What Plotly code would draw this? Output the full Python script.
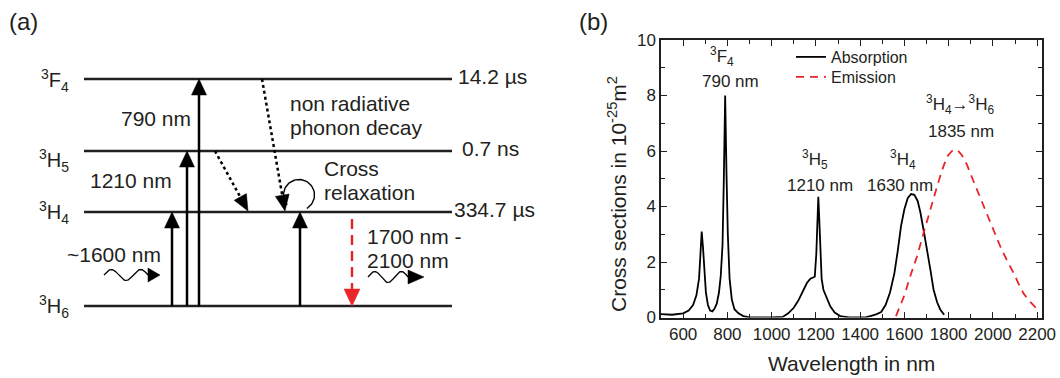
import math
import plotly.graph_objects as go

FONT = "Liberation Sans, Arial, sans-serif"
INK = "#231f20"
RED = "#e8252b"

# ---------------- (b) cross-section spectra ----------------
abs_wavelength = [500, 550, 600, 625, 645, 660, 672, 678, 684, 690, 696, 703, 712, 722, 732,
                  742, 752, 762, 770, 778, 784, 790, 796, 802, 810, 820, 832, 850, 872, 900,
                  1000, 1050, 1075, 1100, 1120, 1140, 1160, 1175, 1195, 1202, 1207, 1211, 1215,
                  1220, 1226, 1234, 1250, 1265, 1285, 1310, 1350, 1420, 1450, 1475, 1495, 1515,
                  1535, 1555, 1570, 1585, 1600, 1615, 1630, 1645, 1660, 1672, 1688, 1702, 1718,
                  1732, 1748, 1762, 1780]
abs_sigma = [0.12, 0.10, 0.15, 0.25, 0.45, 0.8, 1.4, 2.2, 3.1, 2.5, 1.6, 0.9, 0.45, 0.25, 0.22,
             0.32, 0.5, 0.9, 1.5, 2.6, 5.0, 8.0, 5.2, 3.0, 1.4, 0.65, 0.3, 0.15, 0.05, 0.0,
             0.0, 0.02, 0.15, 0.35, 0.6, 0.95, 1.25, 1.4, 1.47, 2.3, 3.6, 4.35, 3.6,
             2.3, 1.4, 1.0, 0.65, 0.4, 0.18, 0.05, 0.0, 0.0, 0.06, 0.12, 0.2, 0.45,
             0.9, 1.6, 2.4, 3.3, 3.9, 4.3, 4.45, 4.42, 4.2, 3.8, 3.1, 2.5, 1.7,
             1.0, 0.55, 0.29, 0.1]

em_wavelength = [1562, 1581, 1600, 1627, 1657, 1687, 1717, 1747, 1770, 1793, 1815, 1838, 1860,
                 1883, 1913, 1943, 1973, 2003, 2034, 2064, 2094, 2120, 2140, 2170, 2200]
em_sigma = [0.05, 0.4, 0.8, 1.5, 2.2, 3.05, 3.9, 4.7, 5.3, 5.8, 6.0, 6.05, 5.85,
            5.5, 4.9, 4.3, 3.75, 3.15, 2.55, 2.05, 1.6, 1.15, 0.85, 0.55, 0.3]

# peak labels: (text, wavelength, cross section)
peak_labels = [
    ("<sup>3</sup>F<sub>4</sub>", 776, 9.39),
    ("790 nm", 812, 8.52),
    ("<sup>3</sup>H<sub>5</sub>", 1196, 5.68),
    ("1210 nm", 1219, 4.77),
    ("<sup>3</sup>H<sub>4</sub>", 1594, 5.68),
    ("1630 nm", 1580, 4.77),
    ("<sup>3</sup>H<sub>4</sub>→<sup>3</sup>H<sub>6</sub>", 1852, 7.66),
    ("1835 nm", 1856, 6.72),
]

# ---------------- (a) energy level scheme ----------------
level_names = ["<sup>3</sup>F<sub>4</sub>", "<sup>3</sup>H<sub>5</sub>",
               "<sup>3</sup>H<sub>4</sub>", "<sup>3</sup>H<sub>6</sub>"]
level_y = [79, 151, 212, 306]          # diagram height of each level
level_label_y = [80, 160, 212, 306]
lifetimes = ["14.2 µs", "0.7 ns", "334.7 µs", ""]
lifetime_x = [456, 460, 452, 0]
level_x0, level_x1 = 84, 452

# absorption transitions from the ground level (x position, target level index)
pump_x = [172, 187, 199, 300]
pump_to = [2, 1, 0, 2]
# non radiative decays: (x start, from level, x end, to level)
decays = [(262, 0, 285, 2), (215, 1, 248, 2)]
# radiative emission 3H4 -> 3H6
emission_x = 352
emission_top = 219

fig = go.Figure()

fig.add_trace(go.Scatter(x=abs_wavelength, y=abs_sigma, mode="lines", name="Absorption",
                         line=dict(color="black", width=1.8), xaxis="x", yaxis="y",
                         legend="legend"))
fig.add_trace(go.Scatter(x=em_wavelength, y=em_sigma, mode="lines", name="Emission",
                         line=dict(color=RED, width=1.8, dash="8px,6px"), xaxis="x", yaxis="y",
                         legend="legend2"))

shapes = []
annotations = []


def head(tip, frm, length=16, half=7.5, color="black"):
    dx, dy = tip[0] - frm[0], tip[1] - frm[1]
    n = math.hypot(dx, dy)
    dx, dy = dx / n, dy / n
    bx, by = tip[0] - dx * length, tip[1] - dy * length
    px, py = -dy, dx
    path = (f"M{tip[0]},{tip[1]} L{bx + px * half},{by + py * half} "
            f"L{bx - px * half},{by - py * half} Z")
    shapes.append(dict(type="path", path=path, xref="x2", yref="y2",
                       fillcolor=color, line=dict(color=color, width=0.5)))
    return bx, by


def arrow(frm, tip, width=2.5, dash="solid", color="black", length=16, half=7.5):
    bx, by = head(tip, frm, length, half, color)
    shapes.append(dict(type="line", x0=frm[0], y0=frm[1], x1=bx, y1=by, xref="x2", yref="y2",
                       line=dict(color=color, width=width, dash=dash)))


# levels
for name, y, ly, life, lx in zip(level_names, level_y, level_label_y, lifetimes, lifetime_x):
    shapes.append(dict(type="line", x0=level_x0, x1=level_x1, y0=y, y1=y, xref="x2", yref="y2",
                       line=dict(color=INK, width=2.6)))
    annotations.append(dict(text=name, x=71, y=ly, xref="x2", yref="y2", xanchor="right",
                            yanchor="middle", showarrow=False, font=dict(size=20)))
    if life:
        annotations.append(dict(text=life, x=lx, y=y - 3, xref="x2", yref="y2", xanchor="left",
                                yanchor="middle", showarrow=False, font=dict(size=21)))

for x, to in zip(pump_x, pump_to):
    arrow((x, level_y[3]), (x, level_y[to]))

for x0, l0, x1, l1 in decays:
    arrow((x0, level_y[l0]), (x1, level_y[l1] - 1), width=2.5, dash="dot", length=16, half=7)

arrow((emission_x, emission_top), (emission_x, level_y[3]), dash="10px,6px", color=RED,
      length=17, half=8)

# cross relaxation loop
cx, cy, r = 299, 195, 15.5
angs = [math.radians(220 - i * 280 / 60) for i in range(61)]
fig.add_trace(go.Scatter(x=[cx + r * math.cos(a) for a in angs],
                         y=[cy - r * math.sin(a) for a in angs], mode="lines",
                         line=dict(color="black", width=1.4), xaxis="x2", yaxis="y2",
                         showlegend=False, hoverinfo="skip"))


def wavy(x0, x1, yc, tip_x, amp=5.5, periods=1.5):
    n = 80
    xs = [x0 + (x1 - x0) * i / n for i in range(n + 1)]
    ys = [yc - amp * math.sin(2 * math.pi * periods * i / n) for i in range(n + 1)]
    fig.add_trace(go.Scatter(x=xs, y=ys, mode="lines", line=dict(color="black", width=1.3),
                             xaxis="x2", yaxis="y2", showlegend=False, hoverinfo="skip"))
    head((tip_x, yc), (x1, yc), length=tip_x - x1, half=7)


wavy(104, 148, 275, 160)
wavy(368, 408, 277, 424)

text_a = [
    ("790 nm", 156, 118, "center"),
    ("1210 nm", 131, 180, "center"),
    ("~1600 nm", 114, 254, "center"),
    ("non radiative", 288, 103, "left"),
    ("phonon decay", 288, 127, "left"),
    ("Cross", 322, 168, "left"),
    ("relaxation", 322, 192, "left"),
    ("1700 nm -", 365, 236, "left"),
    ("2100 nm", 365, 260, "left"),
]
for t, x, y, anc in text_a:
    annotations.append(dict(text=t, x=x, y=y, xref="x2", yref="y2", xanchor=anc,
                            yanchor="middle", showarrow=False, font=dict(size=21)))

# panel tags
for tag, px in (("(a)", 7), ("(b)", 577)):
    annotations.append(dict(text=tag, x=px / 1060, y=1 - 21 / 378, xref="paper", yref="paper",
                            xanchor="left", yanchor="middle", showarrow=False,
                            font=dict(size=24)))

for t, wl, s in peak_labels:
    annotations.append(dict(text=t, x=wl, y=s, xref="x", yref="y", xanchor="center",
                            yanchor="middle", showarrow=False, font=dict(size=17)))

annotations.append(dict(text="Cross sections in 10<sup>-25</sup>m<sup>2</sup>", x=617 / 1060,
                        y=1 - 194 / 378, xref="paper", yref="paper", textangle=-90,
                        xanchor="center", yanchor="middle", showarrow=False,
                        font=dict(size=21)))
annotations.append(dict(text="Wavelength in nm", x=851 / 1060, y=1 - 363 / 378, xref="paper",
                        yref="paper", xanchor="center", yanchor="middle", showarrow=False,
                        font=dict(size=21)))

axis_style = dict(showline=True, mirror="ticks", linecolor=INK, linewidth=1.5, ticks="inside",
                  ticklen=6, tickwidth=1.4, tickcolor=INK, showgrid=False, zeroline=False,
                  automargin=False, tickfont=dict(size=17, color=INK))

legend_style = dict(xanchor="left", yanchor="middle", bgcolor="rgba(0,0,0,0)",
                    font=dict(size=16, color=INK))

fig.update_layout(
    template="none",
    width=1060, height=378, margin=dict(l=0, r=0, t=0, b=0, pad=0, autoexpand=False),
    paper_bgcolor="white", plot_bgcolor="rgba(0,0,0,0)",
    font=dict(family=FONT, color=INK),
    xaxis=dict(domain=[661 / 1060, 1042 / 1060], range=[500, 2222], dtick=200, tick0=0,
               minor=dict(dtick=100, ticklen=4, ticks="inside", tickcolor=INK, tickwidth=1.2),
               anchor="y", **axis_style),
    yaxis=dict(domain=[1 - 317.5 / 378, 1 - 40 / 378], range=[0, 10], dtick=2, tick0=0,
               minor=dict(dtick=1, ticklen=4, ticks="inside", tickcolor=INK, tickwidth=1.2),
               anchor="x", **axis_style),
    xaxis2=dict(domain=[0, 560 / 1060], range=[0, 560], visible=False, anchor="y2",
                automargin=False),
    yaxis2=dict(domain=[0, 1], range=[378, 0], visible=False, anchor="x2", automargin=False),
    showlegend=True,
    legend=dict(x=791 / 1060, y=1 - 57 / 378, **legend_style),
    legend2=dict(x=791 / 1060, y=1 - 77 / 378, **legend_style),
    shapes=shapes,
    annotations=annotations,
)

fig.write_html("out.html")
